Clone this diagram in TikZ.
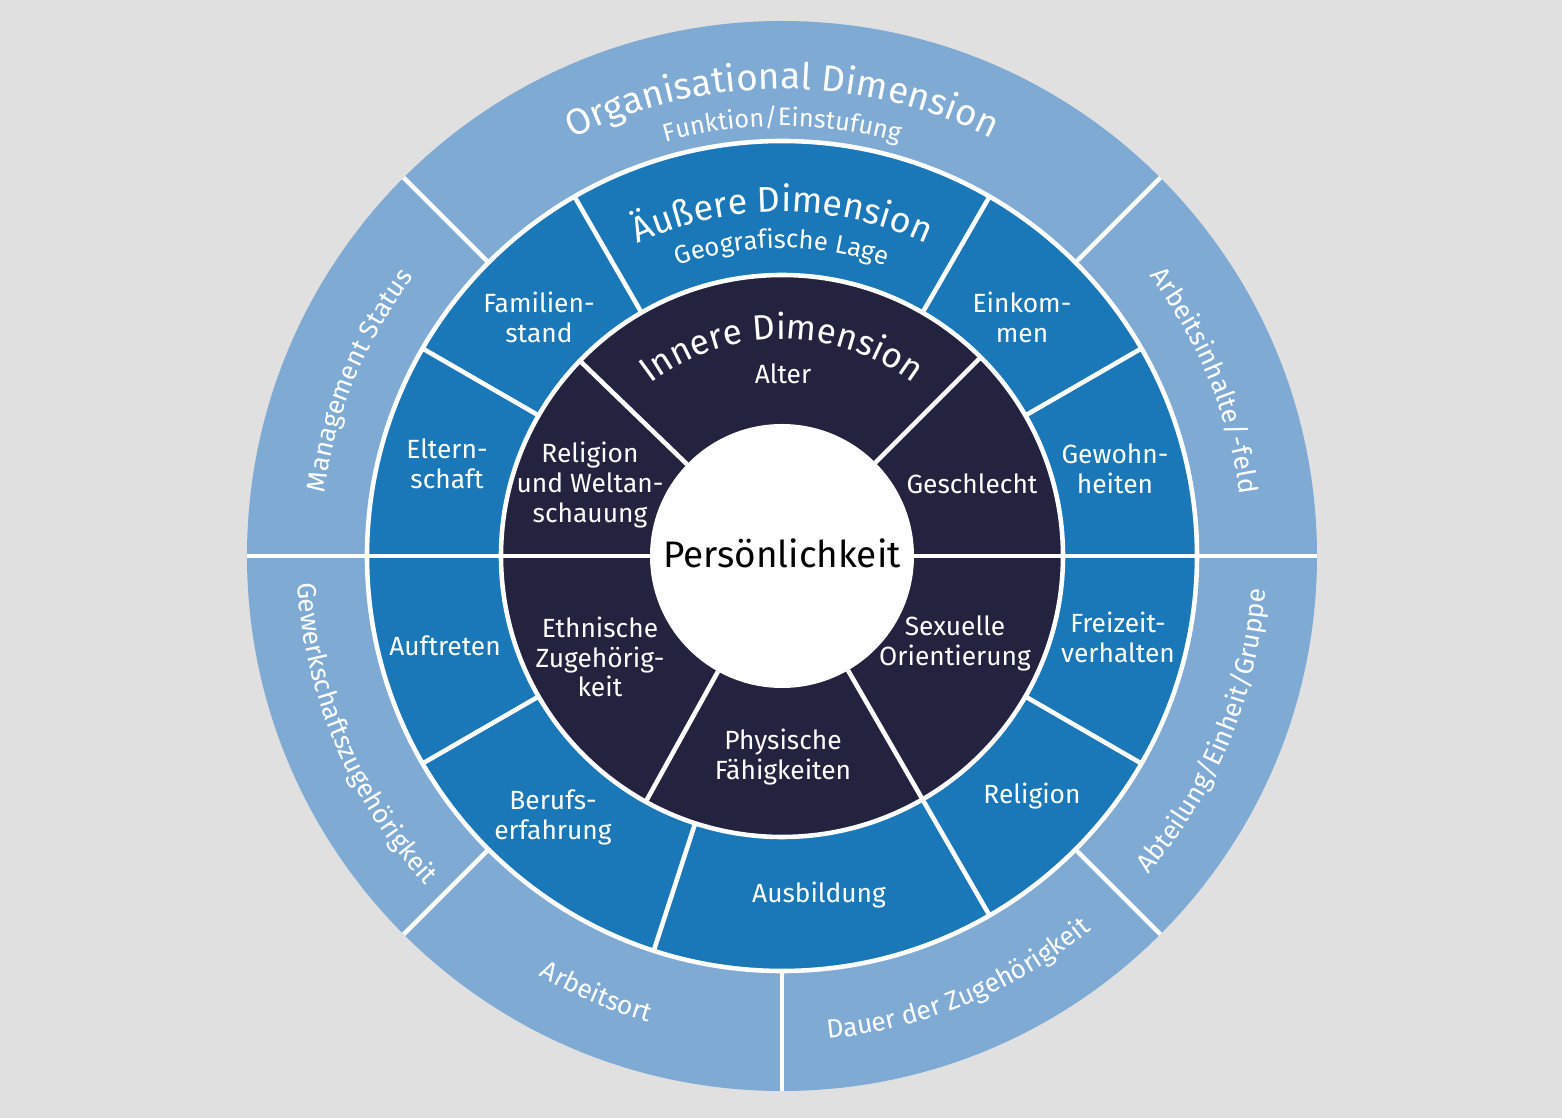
\documentclass[tikz,border=0pt]{standalone}
\usepackage{fontspec}
\setmainfont{Fira Sans}
\usetikzlibrary{decorations.text}
\definecolor{bggray}{HTML}{E0E0E0}
\definecolor{ringout}{HTML}{7FAAD4}
\definecolor{ringmid}{HTML}{1A77B8}
\definecolor{ringin}{HTML}{23233F}
% text on an arc: radius, start angle, end angle, size, text
\newcommand{\ringtext}[5]{\path[decorate, decoration={text along path, text align=center, text={|\fontsize{#4}{#4}\selectfont\color{white}|#5}}] (#2:#1) arc[start angle=#2, end angle=#3, radius=#1];}
\newcommand{\spoke}[3]{\draw[divider] (#1:#2) -- (#1:#3);}
\tikzset{
  divider/.style={white, line width=1.3pt},
  lbl/.style={white, align=center, font=\fontsize{7.5}{8.5}\selectfont},
}
\begin{document}
\begin{tikzpicture}
        \useasboundingbox[fill=bggray] (-7.82,-5.62) rectangle (7.80,5.56);
        % rings
        \fill[ringout] (0,0) circle (5.35);
        \fill[ringmid] (0,0) circle (4.15);
        \fill[ringin] (0,0) circle (2.81);
        \fill[white] (0,0) circle (1.32);
        \draw[divider] (0,0) circle (4.15);
        \draw[divider] (0,0) circle (2.81);
        % outer spokes
        \foreach \a in {0,45,135,180,225,270,315} {\spoke{\a}{4.15}{5.35}}
        % middle spokes
        \foreach \a in {0,30,60,120,150,180,210,252,300,330} {\spoke{\a}{2.81}{4.15}}
        % inner spokes
        \foreach \a in {0,45,136,180,241,300} {\spoke{\a}{1.32}{2.81}}
        % outer ring texts
        \ringtext{4.67}{135}{45}{10.5}{Organisational Dimension}
        \ringtext{4.30}{135}{45}{7.2}{Funktion/Einstufung}
        \ringtext{4.62}{200}{115}{7.5}{Management Status}
        \ringtext{4.62}{65}{-20}{7.5}{Arbeitsinhalte/-feld}
        \ringtext{4.85}{160}{246}{7.5}{Gewerkschaftszugehörigkeit}
        \ringtext{4.85}{210}{284}{7.5}{Arbeitsort}
        \ringtext{4.85}{255}{330}{7.5}{Dauer der Zugehörigkeit}
        \ringtext{4.85}{-60}{15}{7.5}{Abteilung/Einheit/Gruppe}
        % middle ring texts
        \ringtext{3.44}{130}{50}{10.2}{Äußere Dimension}
        \ringtext{3.08}{130}{50}{7.3}{Geografische Lage}
        \node[lbl] (famstand) at (-2.43,2.39) {Familien-\\stand};
        \node[lbl] (einkommen) at (2.40,2.39) {Einkom-\\men};
        \node[lbl] (eltern) at (-3.35,0.92) {Eltern-\\schaft};
        \node[lbl] (gewohn) at (3.33,0.87) {Gewohn-\\heiten};
        \node[lbl] (auftreten) at (-3.37,-0.90) {Auftreten};
        \node[lbl] (freizeit) at (3.36,-0.81) {Freizeit-\\verhalten};
        \node[lbl] (beruf) at (-2.29,-2.61) {Berufs-\\erfahrung};
        \node[lbl] (relig) at (2.50,-2.40) {Religion};
        \node[lbl] (ausbild) at (0.37,-3.39) {Ausbildung};
        % inner ring texts
        \ringtext{2.17}{135}{45}{10}{Innere Dimension}
        \node[lbl] (alter) at (0.01,1.82) {Alter};
        \node[lbl] (weltansch) at (-1.92,0.71) {Religion\\und Weltan-\\schauung};
        \node[lbl] (geschlecht) at (1.90,0.72) {Geschlecht};
        \node[lbl] (ethnisch) at (-1.82,-1.01) {Ethnische\\Zugehörig-\\keit};
        \node[lbl] (physisch) at (0.01,-2.01) {Physische\\Fähigkeiten};
        \node[lbl] (sexuell) at (1.73,-0.87) {Sexuelle\\Orientierung};
        % centre
        \node[font=\fontsize{10.5}{12}\selectfont, text=black] (person) at (0,0.03) {Persönlichkeit};
\end{tikzpicture}
\end{document}
